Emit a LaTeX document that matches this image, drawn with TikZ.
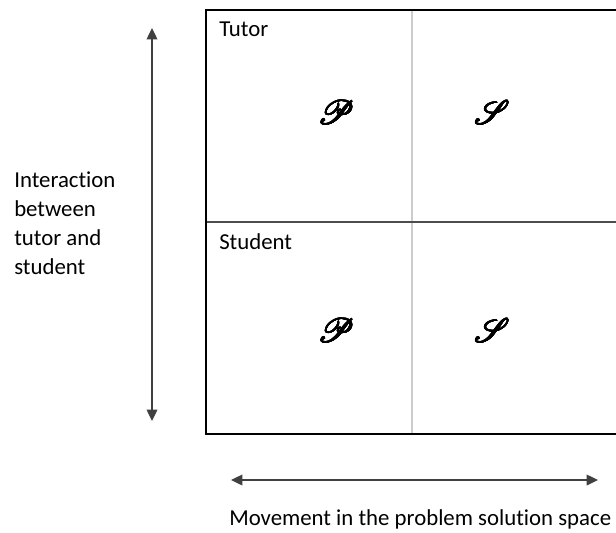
\documentclass[tikz,border=0pt]{standalone}
\usepackage{fontspec}
\setmainfont{Carlito}[Ligatures=NoCommon]
\usepackage{mathrsfs}
\usepackage{contour}
\contourlength{0.35pt}
\usetikzlibrary{arrows.meta}
\newcommand{\boldscr}[1]{\contour{black}{$\mathscr{#1}$}}
\begin{document}
\begin{tikzpicture}[x=0.75pt,y=-0.75pt,
  label/.style={font=\fontsize{17.1}{21.75}\selectfont, inner sep=0pt},
  symb/.style={font=\fontsize{23}{26}\selectfont, inner sep=0pt},
  axis/.style={draw=black!75, line width=1pt, {Triangle[length=8.5pt,width=8pt]}-{Triangle[length=8.5pt,width=8pt]}}]
\useasboundingbox (0,0) rectangle (616,532);
\begin{scope}
\clip (0,0) rectangle (616,532);
% quadrant grid
\draw[draw=black!20, line width=0.8pt] (412,10) -- (412,434);
\draw[draw=black!70, line width=0.9pt] (206,222) -- (640,222);
\draw[line width=1.5pt] (640,10) -- (206,10) -- (206,434) -- (640,434);
\end{scope}
% row labels
\node[label, anchor=base west] (tutor) at (219,36) {Tutor};
\node[label, anchor=base west] (student) at (219,249) {Student};
% symbols in each cell
\node[symb] (p1) at (336,113) {\boldscr{P}};
\node[symb] (s1) at (492,113) {\boldscr{S}};
\node[symb] (p2) at (336,331) {\boldscr{P}};
\node[symb] (s2) at (492,331) {\boldscr{S}};
% vertical axis
\coordinate (vtop) at (152,28);
\coordinate (vbot) at (152,421);
\draw[axis] (vbot) -- (vtop);
\node[label, anchor=base west, align=left] (ylab) at (14,274)
  {Interaction\\between\\tutor and\\student};
% horizontal axis
\coordinate (hl) at (231,480);
\coordinate (hr) at (598,480);
\draw[axis] (hl) -- (hr);
\node[label, anchor=base west] (xlab) at (229,525) {Movement in the problem solution space};
\end{tikzpicture}
\end{document}
